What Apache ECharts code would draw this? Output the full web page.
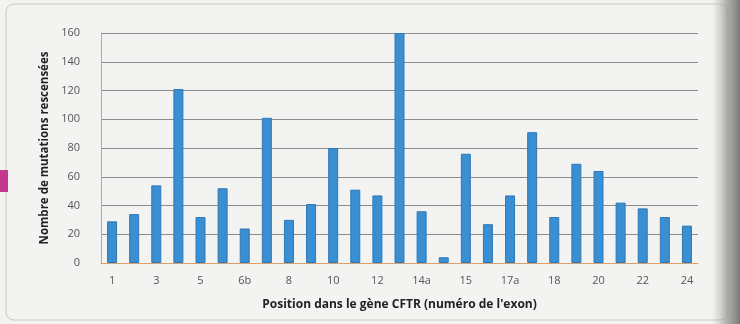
<!DOCTYPE html>
<html><head><meta charset="utf-8">
<script src="https://cdn.jsdelivr.net/npm/echarts@6/dist/echarts.min.js"></script>
<style>html,body{margin:0;padding:0;background:#f3f3f1}#c{width:740px;height:324px}</style>
</head><body><div id="c"></div>
<script>
const categories = ['1','2','3','4','5','6a','6b','7','8','9','10','11','12','13','14a','14b','15','16','17a','17b','18','19','20','21','22','23','24'];
const mutations = [29,34,54,121,32,52,24,101,30,41,80,51,47,160,36,4,76,27,47,91,32,69,64,42,38,32,26];
const yTicks = {min:0,max:160,interval:20};
const xTitle = "Position dans le gène CFTR (numéro de l'exon)";
const yTitle = 'Nombre de mutations rescensées';

const chart = echarts.init(document.getElementById('c'));
chart.setOption({
  backgroundColor:'#f3f3f1',
  animation:false,
  grid:{left:101,right:42,top:33,bottom:61},
  graphic:[
    {type:'rect',shape:{x:6,y:4,width:722,height:316,r:8},style:{fill:'none',stroke:'#c8c8c6',lineWidth:1},z:-1},
    {type:'rect',shape:{x:0,y:170,width:8,height:22},style:{fill:'#c2398f'}},
    {type:'rect',shape:{x:712,y:0,width:28,height:324},style:{fill:new echarts.graphic.LinearGradient(0,0,1,0,[{offset:0,color:'rgba(180,180,178,0)'},{offset:0.5,color:'rgba(150,150,148,0.7)'},{offset:1,color:'rgba(110,110,108,0.9)'}])},z:10}
  ],
  xAxis:{
    type:'category',data:categories,
    name:xTitle,nameLocation:'middle',nameGap:36,
    nameTextStyle:{fontFamily:'Open Sans',fontWeight:'bold',fontSize:12,color:'#222'},
    axisLine:{lineStyle:{color:'#d8a070'}},
    axisTick:{show:false},
    axisLabel:{interval:1,color:'#555',fontFamily:'Open Sans',fontSize:11,margin:12}
  },
  yAxis:{
    type:'value',min:yTicks.min,max:yTicks.max,interval:yTicks.interval,
    name:yTitle,nameLocation:'middle',nameGap:50,nameRotate:90,
    nameTextStyle:{fontFamily:'Open Sans',fontWeight:'bold',fontSize:11.5,color:'#222'},
    axisLine:{show:true,lineStyle:{color:'#aaa'}},
    axisLabel:{color:'#555',fontFamily:'Open Sans',fontSize:11,margin:21},
    splitLine:{lineStyle:{color:'#8c8c8c',width:1.2}}
  },
  series:[{
    type:'bar',data:mutations,barWidth:10,
    itemStyle:{color:'#3a8ed2',borderColor:'#2f78b8',borderWidth:1}
  }]
});
</script></body></html>
